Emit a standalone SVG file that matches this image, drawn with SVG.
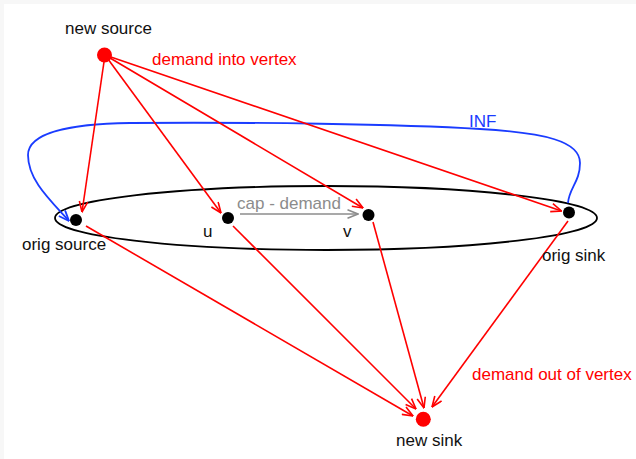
<svg xmlns="http://www.w3.org/2000/svg" width="636" height="459" viewBox="0 0 636 459">
  <defs>
    <marker id="arrow-red" markerUnits="userSpaceOnUse" viewBox="0 0 12 10" refX="11.5" refY="5" markerWidth="12" markerHeight="10" orient="auto">
      <path d="M1,0.8 L11.5,5 L1,9.2" fill="none" stroke="#ff0000" stroke-width="1.6"/>
    </marker>
    <marker id="arrow-blue" markerUnits="userSpaceOnUse" viewBox="0 0 12 10" refX="11.5" refY="5" markerWidth="12" markerHeight="10" orient="auto">
      <path d="M1,0.8 L11.5,5 L1,9.2" fill="none" stroke="#1a3cff" stroke-width="1.8"/>
    </marker>
    <marker id="arrow-gray" markerUnits="userSpaceOnUse" viewBox="0 0 12 10" refX="11.5" refY="5" markerWidth="12" markerHeight="10" orient="auto">
      <path d="M1,0.8 L11.5,5 L1,9.2" fill="none" stroke="#8c8c8c" stroke-width="1.6"/>
    </marker>
  </defs>
  <style>
    text { font-family: "Liberation Sans", Arial, sans-serif; font-size: 17px; }
    .lbl { fill: #111111; }
    .red { fill: #ff0000; }
    .blue { fill: #1a3cff; }
    .gray { fill: #8c8c8c; }
    .edge { fill: none; stroke: #ff0000; stroke-width: 1.6; marker-end: url(#arrow-red); }
    .inf { fill: none; stroke: #1a3cff; stroke-width: 1.8; marker-end: url(#arrow-blue); }
    .cap { fill: none; stroke: #8c8c8c; stroke-width: 1.6; marker-end: url(#arrow-gray); }
    .dot { fill: #000000; }
    .big { fill: #ff0000; }
  </style>

  <!-- canvas -->
  <rect x="0" y="0" width="636" height="459" fill="#f7f7f7"/>
  <rect x="4" y="4" width="632" height="455" fill="#ffffff"/>

  <!-- original network boundary -->
  <ellipse id="network" cx="326" cy="218" rx="271" ry="32" fill="none" stroke="#000000" stroke-width="1.8"/>

  <g id="connectors">
    <!-- infinite-capacity return edge, orig sink -> orig source -->
    <path class="inf" d="M568,203 C569,188 580,182 580,163 C580,141 545,133 480,129 C400,124 250,122 130,123 C70,124 28,132 28,155 C28,180 50,200 69,221"/>
    <!-- reduced capacity edge u -> v -->
    <line class="cap" x1="240" y1="214" x2="358" y2="214"/>
    <!-- new source -> every vertex -->
    <line class="edge" x1="105" y1="55" x2="82" y2="212"/>
    <line class="edge" x1="105" y1="55" x2="221" y2="213"/>
    <line class="edge" x1="105" y1="55" x2="363" y2="208"/>
    <line class="edge" x1="105" y1="55" x2="561.5" y2="211"/>
    <!-- every vertex -> new sink -->
    <line class="edge" x1="86" y1="226" x2="413" y2="416"/>
    <line class="edge" x1="233" y1="226" x2="416" y2="409"/>
    <line class="edge" x1="373" y1="222" x2="424" y2="408"/>
    <line class="edge" x1="568" y1="221" x2="432" y2="407"/>
  </g>

  <g id="new-source">
    <circle class="big" cx="104.5" cy="55" r="7.5"/>
    <text class="lbl" x="65" y="34">new source</text>
  </g>
  <g id="orig-source">
    <circle class="dot" cx="76" cy="220" r="6"/>
    <text class="lbl" x="22" y="250">orig source</text>
  </g>
  <g id="u">
    <circle class="dot" cx="228" cy="218" r="6"/>
    <text class="lbl" x="203" y="237">u</text>
  </g>
  <g id="v">
    <circle class="dot" cx="368.5" cy="215" r="6"/>
    <text class="lbl" x="343" y="237">v</text>
  </g>
  <g id="orig-sink">
    <circle class="dot" cx="569" cy="212.5" r="6"/>
    <text class="lbl" x="542" y="261">orig sink</text>
  </g>
  <g id="new-sink">
    <circle class="big" cx="423.3" cy="419.3" r="7.5"/>
    <text class="lbl" x="396" y="446">new sink</text>
  </g>

  <!-- edge labels -->
  <text class="red" x="152" y="65">demand into vertex</text>
  <text class="blue" x="469" y="127">INF</text>
  <text class="gray" x="237" y="209">cap - demand</text>
  <text class="red" x="472" y="380">demand out of vertex</text>
</svg>
